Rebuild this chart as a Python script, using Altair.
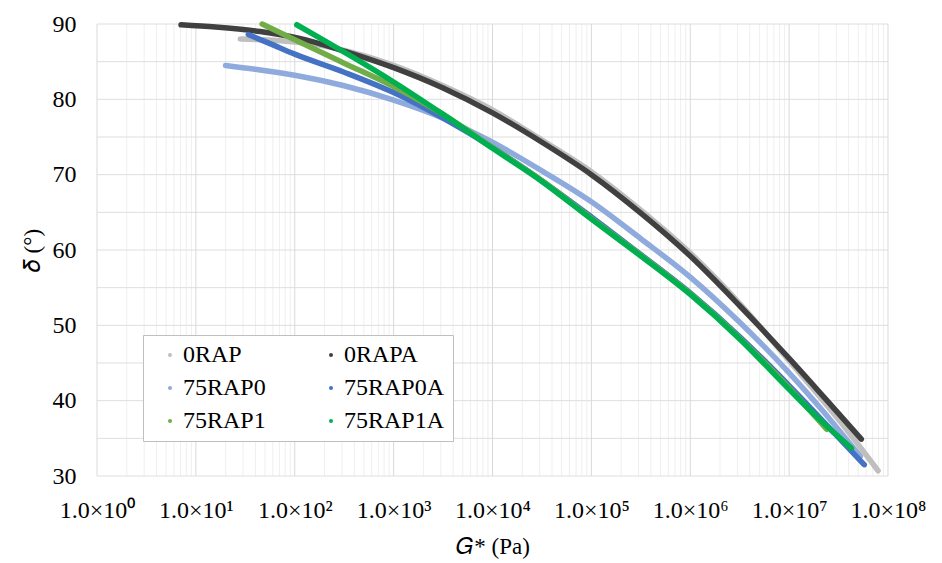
import altair as alt
import pandas as pd

FONT = "Liberation Serif"

series_names = ["0RAP", "0RAPA", "75RAP0", "75RAP0A", "75RAP1", "75RAP1A"]
series_colors = ["#bfbfbf", "#404040", "#8faadc", "#4472c4", "#70ad47", "#00b050"]

# log10(G*) values and phase angle values
logg_0rap = [1.45, 1.7, 2.0, 2.33, 2.7, 3.0, 3.5, 4.0, 4.5, 5.0, 5.5, 6.0, 6.5, 7.0, 7.5, 7.9]
delta_0rap = [88.0, 87.9, 87.6, 87.0, 85.8, 84.5, 81.8, 78.6, 74.6, 70.4, 65.3, 59.6, 52.9, 45.3, 37.5, 30.7]

logg_0rapa = [0.85, 1.2, 1.65, 2.05, 2.5, 3.0, 3.5, 4.0, 4.5, 5.0, 5.5, 6.0, 6.5, 7.0, 7.35, 7.73]
delta_0rapa = [89.9, 89.6, 89.0, 88.1, 86.4, 84.2, 81.5, 78.2, 74.3, 70.0, 64.9, 59.2, 52.6, 45.6, 40.5, 34.9]

logg_75rap0 = [1.3, 1.6, 2.0, 2.5, 3.0, 3.5, 4.0, 4.5, 5.0, 5.5, 6.0, 6.5, 7.0, 7.35, 7.72]
delta_75rap0 = [84.5, 84.0, 83.2, 81.8, 79.9, 77.5, 74.3, 70.5, 66.4, 61.5, 56.4, 50.4, 43.7, 38.5, 32.6]

logg_75rap0a = [1.53, 1.75, 2.0, 2.5, 3.0, 3.5, 4.0, 4.5, 5.0, 5.5, 6.0, 6.5, 7.0, 7.4, 7.76]
delta_75rap0a = [88.6, 87.4, 86.0, 83.6, 80.9, 77.5, 73.6, 69.2, 64.4, 59.4, 54.3, 48.5, 42.0, 36.5, 31.5]

logg_75rap1 = [1.67, 2.0, 2.5, 3.0, 3.5, 4.0, 4.5, 5.0, 5.5, 6.0, 6.5, 7.0, 7.38]
delta_75rap1 = [90.0, 87.9, 84.8, 81.7, 78.0, 73.6, 69.2, 64.2, 59.3, 54.2, 48.3, 41.7, 36.2]

logg_75rap1a = [2.02, 2.3, 2.6, 3.0, 3.5, 4.0, 4.5, 5.0, 5.5, 6.0, 6.5, 7.0, 7.3, 7.63]
delta_75rap1a = [89.9, 87.8, 85.5, 82.3, 78.0, 73.5, 69.1, 64.1, 59.2, 54.1, 48.2, 41.5, 37.6, 33.7]

x_major_ticks = [1, 10, 100, 1e3, 1e4, 1e5, 1e6, 1e7, 1e8]
y_ticks = [30, 40, 50, 60, 70, 80, 90]
y_grid = [30, 35, 40, 45, 50, 55, 60, 65, 70, 75, 80, 85, 90]
x_minor_ticks = [m * 10 ** d for d in range(8) for m in range(2, 10)]

all_logg = [logg_0rap, logg_0rapa, logg_75rap0, logg_75rap0a, logg_75rap1, logg_75rap1a]
all_delta = [delta_0rap, delta_0rapa, delta_75rap0, delta_75rap0a, delta_75rap1, delta_75rap1a]

rows = []
for name, lg, dl in zip(series_names, all_logg, all_delta):
    for i, (a, b) in enumerate(zip(lg, dl)):
        rows.append({"series": name, "G": 10 ** a, "delta": b, "i": i})
df = pd.DataFrame(rows)

x_scale = alt.Scale(type="log", domain=[1, 1e8], nice=False)
y_scale = alt.Scale(domain=[30, 90], nice=False, zero=False)
color_scale = alt.Scale(domain=series_names, range=series_colors)

x_title = "\U0001D43A* (Pa)"
y_title = "\U0001D6FF (°)"

x_axis = alt.Axis(
    values=x_major_ticks,
    labelExpr="'1.0×10' + ['⁰','¹','²','³','⁴','⁵','⁶','⁷','⁸'][round(log(datum.value)/LN10)]",
    grid=False, ticks=False, domain=False,
    labelFont=FONT, labelFontSize=24, labelColor="#000000", labelPadding=22,
    labelFlush=False, labelOverlap=False,
    titleFont=FONT, titleFontSize=23, titleFontWeight="normal", titleColor="#000000",
    titlePadding=13,
)
y_axis = alt.Axis(
    values=y_ticks, grid=False, ticks=False, domain=False,
    labelFont=FONT, labelFontSize=24, labelColor="#000000", labelPadding=21,
    titleFont=FONT, titleFontSize=23, titleFontWeight="normal", titleColor="#000000",
    titlePadding=8,
)

X = lambda: alt.X("G:Q", scale=x_scale, axis=x_axis, title=x_title)
Y = lambda: alt.Y("delta:Q", scale=y_scale, axis=y_axis, title=y_title)

minor_x = alt.Chart(pd.DataFrame({"G": x_minor_ticks})).mark_rule(
    color="#efefef", strokeWidth=1
).encode(x=X())

grid_y = alt.Chart(pd.DataFrame({"delta": y_grid})).mark_rule(
    color="#dedede", strokeWidth=1
).encode(y=Y())

major_x = alt.Chart(pd.DataFrame({"G": x_major_ticks})).mark_rule(
    color="#d9d9d9", strokeWidth=1
).encode(x=X())

legend = alt.Legend(
    title=None, orient="none", legendX=46, legendY=311, columns=2,
    direction="horizontal",
    symbolType="circle", symbolSize=16, symbolStrokeWidth=0,
    symbolOffset=7, labelOffset=1, columnPadding=46, rowPadding=9,
    labelFont=FONT, labelFontSize=24, labelColor="#000000", labelLimit=300,
    padding=8, strokeColor="#bfbfbf", fillColor="#ffffff",
)

points = alt.Chart(df).mark_circle(size=14, opacity=1).encode(
    x=X(), y=Y(),
    color=alt.Color("series:N", scale=color_scale, legend=legend, sort=series_names),
)

lines = []
for name in series_names:
    lines.append(
        alt.Chart(df).transform_filter(alt.datum.series == name).mark_line(
            strokeWidth=5.5, interpolate="monotone", strokeCap="round", strokeJoin="round"
        ).encode(
            x=X(), y=Y(),
            order="i:Q",
            color=alt.Color("series:N", scale=color_scale, legend=None),
        )
    )

chart = alt.layer(minor_x, grid_y, major_x, points, *lines).properties(
    width=791, height=452,
    autosize=alt.AutoSizeParams(type="none"),
    padding={"left": 97, "top": 24, "right": 54, "bottom": 87},
    background="#ffffff",
).configure_view(stroke=None)

chart.save("out.html", embed_options={"renderer": "svg", "actions": False})
